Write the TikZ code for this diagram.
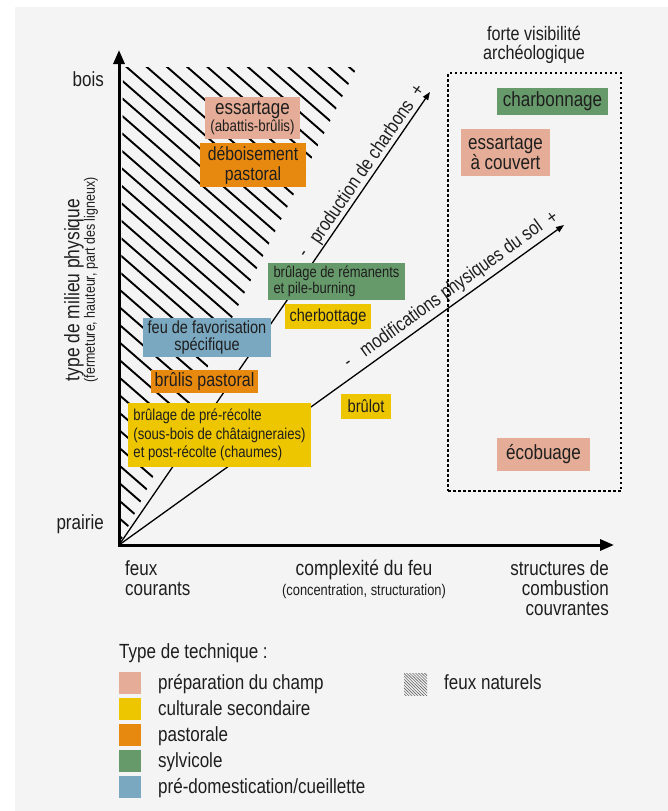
\documentclass[tikz,border=0pt]{standalone}
\usepackage{fontspec}
\setmainfont{Liberation Sans}[FakeStretch=0.83]
\usetikzlibrary{arrows.meta,calc}
\definecolor{bg}{HTML}{F4F4F4}
\definecolor{cpink}{HTML}{E5AD97}
\definecolor{cyellow}{HTML}{EEC600}
\definecolor{corange}{HTML}{E8890F}
\definecolor{cgreen}{HTML}{679A6A}
\definecolor{cblue}{HTML}{7AA8C1}
\definecolor{txt}{HTML}{1E1E1E}
\newcommand{\fsz}[2]{\fontsize{#1pt}{#2pt}\selectfont}
\begin{document}
\begin{tikzpicture}[x=1pt,y=-1pt,
  hatchline/.style={line width=1.9pt, black},
  axis/.style={line width=3pt, line join=miter, {Triangle[length=14pt,width=11pt]}-{Triangle[length=14pt,width=11pt]}},
  diag/.style={line width=1.3pt, -{Triangle[length=8pt,width=6pt]}},
  box/.style={inner sep=0pt, align=center, text=txt},
  boxl/.style={inner sep=0pt, align=left, text=txt},
  lbl/.style={inner sep=0pt, text=txt, font=\fsz{20.5}{20}},
  dlbl/.style={inner xsep=0pt, text=txt, font=\fsz{19.5}{20}, anchor=south},
  swatch/.style={minimum width=22pt, minimum height=22pt, inner sep=0pt}
]
\useasboundingbox (0,0) rectangle (668,811);
\fill[bg] (15,7) rectangle (668,811);

% hatched area (feux naturels)
\begin{scope}
  \clip (123,67) -- (357,67) -- (119,545) -- cycle;
  \foreach \k in {-14,...,27}
    \draw[hatchline] (105,{78+17.6*\k-12.2}) -- (420,{78+17.6*\k+261.9});
\end{scope}

% axes
\coordinate (O) at (119,545);
\coordinate (ytip) at (119,50);
\coordinate (xtip) at (614,545);
\draw[axis] (ytip) -- (O) -- (xtip);

% diagonal arrows
\coordinate (c1) at (430,92);
\coordinate (c2) at (564,225);
\draw[diag] (O) -- (c1);
\draw[diag] (O) -- (c2);
\node[dlbl, rotate=55.5, inner ysep=1pt] (lab1) at ($(O)!0.81!(c1)$) {production de charbons};
\node[dlbl, rotate=55.5, inner ysep=7.5pt] (m1) at ($(O)!0.628!(c1)$) {-};
\node[dlbl, rotate=55.5, inner ysep=5pt] (p1) at ($(O)!0.99!(c1)$) {+};
\node[dlbl, rotate=35.7, inner ysep=4pt] (lab2) at ($(O)!0.765!(c2)$) {modifications physiques du sol};
\node[dlbl, rotate=35.7, inner ysep=8.5pt] (m2) at ($(O)!0.533!(c2)$) {-};
\node[dlbl, rotate=35.7, inner ysep=6.6pt] (p2) at ($(O)!0.99!(c2)$) {+};

% dotted frame
\node[draw, dash pattern=on 2.5pt off 2.5pt, line width=1.6pt, minimum width=173pt, minimum height=418pt, inner sep=0pt] (vis) at (534.5,282) {};
\node[box, font=\fsz{19.5}{19}] (vistitle) at (534,45) {forte visibilité\\archéologique};

% technique boxes
\node[box, fill=cpink, minimum width=95pt, minimum height=42pt] (b1) at (252.5,118) {\fsz{20.5}{17}essartage\\\fsz{16}{17}(abattis-brûlis)};
\node[box, fill=corange, minimum width=106pt, minimum height=44pt, font=\fsz{19}{20}] (b2) at (253,165) {déboisement\\pastoral};
\node[boxl, fill=cgreen, minimum width=137pt, minimum height=37pt, font=\fsz{15.6}{16}] (b3) at (336.5,281.5) {brûlage de rémanents\\et pile-burning};
\node[box, fill=cyellow, minimum width=86pt, minimum height=25pt, font=\fsz{17.5}{19}] (b4) at (328,316.5) {cherbottage};
\node[box, fill=cblue, minimum width=128pt, minimum height=39pt, font=\fsz{17.5}{17}] (b5) at (207,337.5) {feu de favorisation\\spécifique};
\node[box, fill=corange, minimum width=107pt, minimum height=23pt, font=\fsz{19.3}{20}] (b6) at (204.5,381.5) {brûlis pastoral};
\node[boxl, fill=cyellow, minimum width=183pt, minimum height=64pt, font=\fsz{15.8}{18.5}] (b7) at (219.5,435) {brûlage de pré-récolte\\(sous-bois de châtaigneraies)\\et post-récolte (chaumes)};
\node[box, fill=cyellow, minimum width=50pt, minimum height=25pt, font=\fsz{17.7}{19}] (b8) at (366,406.5) {brûlot};
\node[box, fill=cgreen, minimum width=111pt, minimum height=27pt, font=\fsz{20.5}{20}] (b9) at (552.5,101.5) {charbonnage};
\node[box, fill=cpink, minimum width=89pt, minimum height=47pt, font=\fsz{20.5}{20}] (b10) at (505.5,152.5) {essartage\\à couvert};
\node[box, fill=cpink, minimum width=93pt, minimum height=33pt, font=\fsz{20.5}{20}] (b11) at (543.5,454.5) {écobuage};

% axis labels
\node[lbl, anchor=base east] (bois) at (104,86) {bois};
\node[lbl, anchor=base east] (prairie) at (104,529) {prairie};
\node[lbl, anchor=north west, align=left] (feux) at (125,560) {feux\\courants};
\node[lbl, anchor=north, align=center] (cplx) at (364,560) {\fsz{21}{20}complexité du feu\\\fsz{15.5}{20}(concentration, structuration)};
\node[lbl, anchor=north east, align=right] (struct) at (609,560) {structures de\\combustion\\couvrantes};
\node[lbl, rotate=90, font=\fsz{21}{21}] (ylab) at (74,290) {type de milieu physique};
\node[lbl, rotate=90, font=\fsz{15}{15}] (ylab2) at (91,280) {(fermeture, hauteur, part des ligneux)};

% legend
\node[lbl, anchor=base west] (legtitle) at (119,658) {Type de technique :};
\node[swatch, fill=cpink] (s1) at (130,683) {};
\node[swatch, fill=cyellow] (s2) at (130,709) {};
\node[swatch, fill=corange] (s3) at (130,735) {};
\node[swatch, fill=cgreen] (s4) at (130,761) {};
\node[swatch, fill=cblue] (s5) at (130,787) {};
\node[lbl, anchor=base west] (l1) at (158,689) {préparation du champ};
\node[lbl, anchor=base west] (l2) at (158,715) {culturale secondaire};
\node[lbl, anchor=base west] (l3) at (158,741) {pastorale};
\node[lbl, anchor=base west] (l4) at (158,767) {sylvicole};
\node[lbl, anchor=base west] (l5) at (158,793) {pré-domestication/cueillette};
\begin{scope}
  \clip (404,673) rectangle (427,695);
  \foreach \k in {-10,...,12}
    \draw[line width=0.6pt, black!60] (400,{673+2.9*\k-3.5}) -- (432,{673+2.9*\k+27.8});
\end{scope}
\node[lbl, anchor=base west] (l6) at (444,689) {feux naturels};
\end{tikzpicture}
\end{document}
